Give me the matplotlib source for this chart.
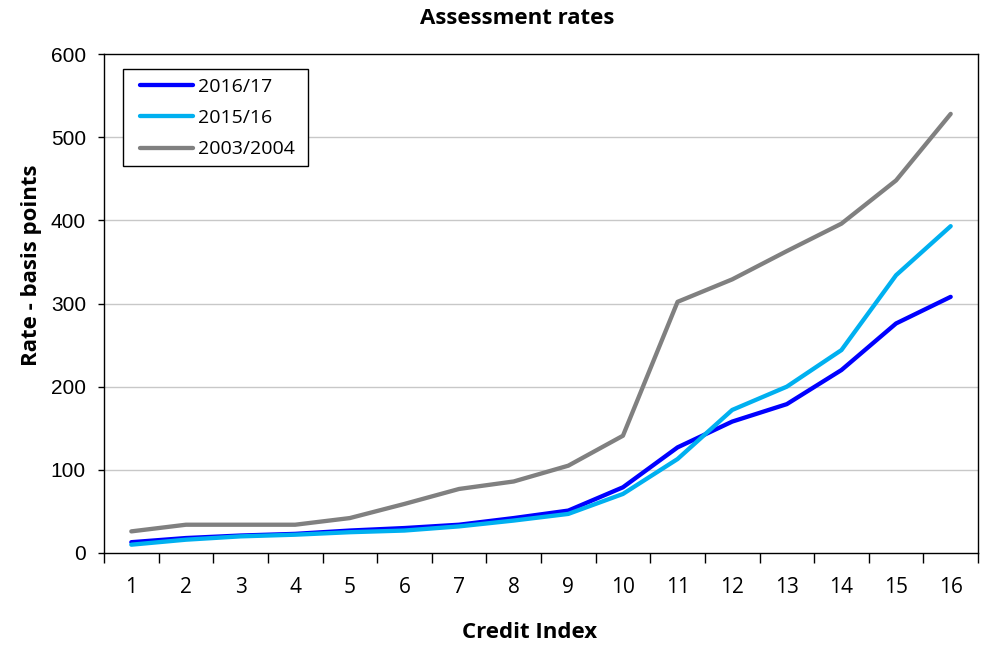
import matplotlib
matplotlib.use("Agg")
import matplotlib.pyplot as plt
from matplotlib.ticker import FixedLocator, NullFormatter
from matplotlib.patches import Rectangle

credit_index = list(range(1, 17))
tick_labels = [str(i) for i in credit_index]
s2016 = [13, 18, 21, 23, 27, 30, 34, 42, 51, 79, 127, 158, 179, 220, 276, 308]
s2015 = [10, 16, 20, 22, 25, 27, 32, 39, 47, 71, 113, 172, 200, 244, 334, 393]
s2003 = [26, 34, 34, 34, 42, 59, 77, 86, 105, 141, 302, 329, 363, 396, 448, 528]
series_names = ["2016/17", "2015/16", "2003/2004"]
colors = ["#0000FF", "#00B0F0", "#808080"]

W, H = 982, 646
fig = plt.figure(figsize=(W / 100, H / 100), dpi=100)
ax = fig.add_axes([104 / W, (H - 553) / H, (978 - 104) / W, (553 - 54) / H])

for vals, name, c in zip([s2016, s2015, s2003], series_names, colors):
    ax.plot(credit_index, vals, color=c, lw=3.1, label=name, solid_capstyle="round",
            solid_joinstyle="round")

ax.set_xlim(0.5, 16.5)
ax.set_ylim(0, 600)
ax.set_yticks(range(0, 601, 100))
ax.set_yticklabels([str(v) for v in range(0, 601, 100)],
                   fontfamily="Liberation Sans", fontsize=15)
ax.set_xticks(credit_index)
ax.set_xticklabels(tick_labels, fontfamily="Open Sans", fontsize=15)
ax.tick_params(axis="x", which="major", length=0, pad=17)
ax.xaxis.set_minor_locator(FixedLocator([i + 0.5 for i in range(0, 17)]))
ax.xaxis.set_minor_formatter(NullFormatter())
ax.tick_params(axis="x", which="minor", length=7.2, width=1, direction="out", color="black")
ax.tick_params(axis="y", length=4.5, width=1, direction="out", pad=8.5)

for y in range(100, 600, 100):
    ax.axhline(y, color="#C8C8C8", lw=1, zorder=0)

for sp in ax.spines.values():
    sp.set_color("black")
    sp.set_linewidth(1)

fig.text(517.5 / W, 1 - 18 / H, "Assessment rates", fontfamily="Open Sans",
         fontweight="bold", fontsize=16, ha="center", va="center")
ax.set_xlabel("Credit Index", fontfamily="Open Sans", fontweight="bold", fontsize=16)
ax.xaxis.set_label_coords((530 - 104) / 874, (553 - 633) / 499)
ax.xaxis.label.set_va("center")
ax.set_ylabel("Rate - basis points", fontfamily="Open Sans", fontweight="bold", fontsize=16)
ax.yaxis.set_label_coords((32 - 104) / 874, (553 - 265) / 499)
ax.yaxis.label.set_va("center")

leg = fig.legend(*ax.get_legend_handles_labels(), loc="center left",
                 bbox_to_anchor=(140 / W, 1 - 118 / H), frameon=False,
                 prop={"family": "Open Sans", "size": 14}, handlelength=2.7,
                 handletextpad=0.26, labelspacing=0.69, borderpad=0, borderaxespad=0)
fig.add_artist(Rectangle((123 / W, 1 - 166 / H), (308 - 123) / W, (166 - 69) / H,
                         transform=fig.transFigure, fill=True, facecolor="white",
                         edgecolor="black", lw=1, zorder=1.5))
leg.set_zorder(3)

fig.savefig("out.png", dpi=100)
